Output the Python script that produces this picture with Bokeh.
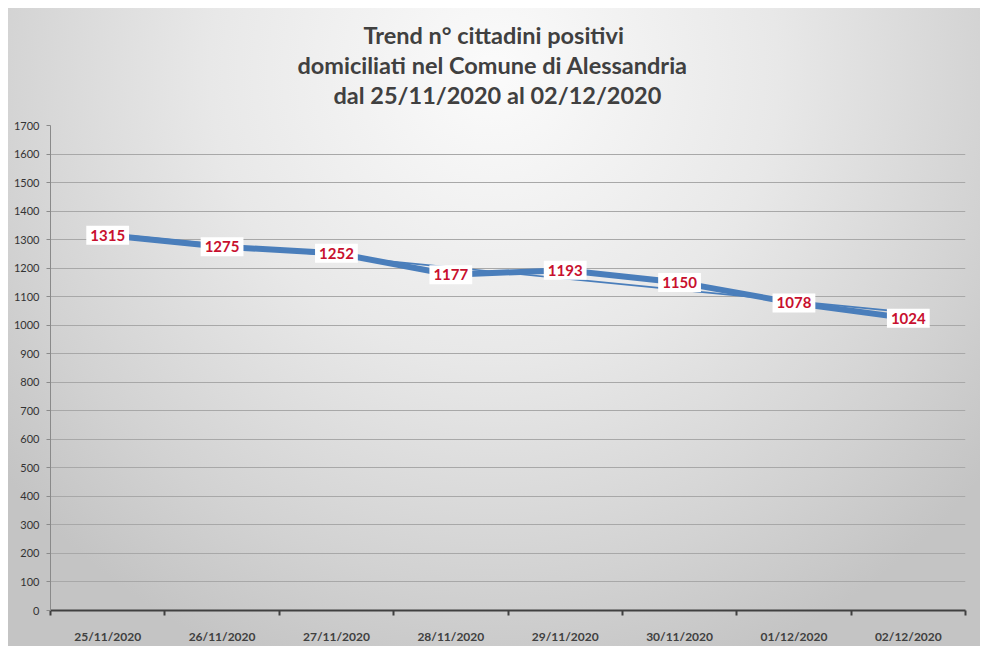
import numpy as np
from bokeh.plotting import figure
from bokeh.models import Range1d, FixedTicker, Title, ColumnDataSource
from bokeh.core.properties import value
from bokeh.embed import file_html
from bokeh.resources import INLINE

dates = ["25/11/2020", "26/11/2020", "27/11/2020", "28/11/2020",
         "29/11/2020", "30/11/2020", "01/12/2020", "02/12/2020"]
positives = [1315, 1275, 1252, 1177, 1193, 1150, 1078, 1024]
y_ticks = list(range(0, 1800, 100))
title_lines = ["Trend n° cittadini positivi",
               "domiciliati nel Comune di Alessandria",
               "dal 25/11/2020 al 02/12/2020"]
title_offsets = [313, 247, 283]

xs = [i + 0.5 for i in range(len(dates))]
slope, intercept = np.polyfit(xs, positives, 1)
trend = [slope * xv + intercept for xv in xs]

src = ColumnDataSource(dict(x=xs, y=positives, lbl=[str(v) for v in positives]))

p = figure(width=972, height=638, output_backend="svg", toolbar_location=None,
           x_range=Range1d(0, len(dates)), y_range=Range1d(0, 1700),
           min_border_left=42, min_border_right=15, min_border_top=117,
           min_border_bottom=33)
p.margin = (8, 0, 0, 8)
p.background_fill_color = None
p.border_fill_color = None
p.outline_line_color = None
p.styles = {"background": "radial-gradient(ellipse 65% 100% at 50% 10%, #fbfbfb 0%, #e8e8e8 45%, #d2d2d2 80%, #c4c4c4 100%)"}

# axes
p.xaxis.ticker = FixedTicker(ticks=xs, minor_ticks=list(range(len(dates) + 1)))
p.xaxis.major_label_overrides = {xv: d for xv, d in zip(xs, dates)}
p.xaxis.major_tick_line_color = None
p.xaxis.major_tick_out = 0
p.xaxis.major_tick_in = 0
p.xaxis.minor_tick_out = 5
p.xaxis.minor_tick_in = 0
p.xaxis.minor_tick_line_color = "#404040"
p.xaxis.minor_tick_line_width = 2
p.xaxis.axis_line_color = "#404040"
p.xaxis.axis_line_width = 2
p.xaxis.major_label_standoff = 13
p.xaxis.major_label_text_font = "Lato"
p.xaxis.major_label_text_font_style = "bold"
p.xaxis.major_label_text_font_size = "12px"
p.xaxis.major_label_text_color = "#404040"

p.yaxis.ticker = FixedTicker(ticks=y_ticks)
p.yaxis.minor_tick_line_color = None
p.yaxis.major_tick_out = 4
p.yaxis.major_tick_in = 0
p.yaxis.major_tick_line_color = "#8a8a8a"
p.yaxis.axis_line_color = "#8a8a8a"
p.yaxis.major_label_standoff = 7
p.yaxis.major_label_text_font = "Lato"
p.yaxis.major_label_text_font_size = "11px"
p.yaxis.major_label_text_color = "#333333"

p.xgrid.grid_line_color = None
p.ygrid.ticker = FixedTicker(ticks=y_ticks)
p.ygrid.grid_line_color = "#a8a8a8"
p.ygrid.grid_line_width = 1

# lines
p.line(xs, trend, line_color="#4a7ebb", line_width=1.6)
p.line("x", "y", source=src, line_color="#4a7ebb", line_width=6, line_join="round")

# data labels
p.text("x", "y", text="lbl", source=src, text_align="center", text_baseline="middle",
       text_font=value("Lato"), text_font_style="bold", text_font_size="15px",
       text_color="#c8102e", background_fill_color="white", padding=4)

# spacer between frame and title, then title lines (later titles stack above)
p.add_layout(Title(text=" ", text_font_size="1px", standoff=14), "above")
for t, off in zip(reversed(title_lines), reversed(title_offsets)):
    p.add_layout(Title(text=t, align="left", offset=off, text_font="Lato",
                       text_font_style="bold", text_font_size="23.5px",
                       text_color="#404040", standoff=0), "above")

open("out.html", "w").write(file_html(p, INLINE))
